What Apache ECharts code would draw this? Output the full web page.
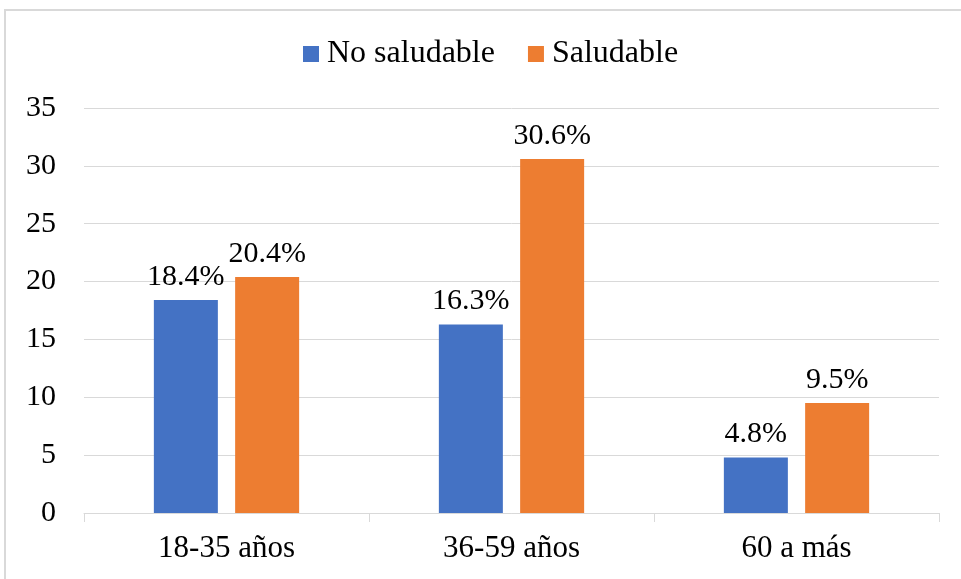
<!DOCTYPE html>
<html>
<head>
<meta charset="utf-8">
<script src="https://cdn.jsdelivr.net/npm/echarts@6/dist/echarts.min.js"></script>
<style>
  html, body { margin: 0; padding: 0; background: #fff; }
  #main { width: 961px; height: 579px; }
  .frame {
    position: absolute; left: 4px; top: 9px; width: 980px; height: 600px;
    border: 2px solid #d9d9d9; box-sizing: border-box; pointer-events: none;
  }
</style>
</head>
<body>
<div id="main"></div>
<div class="frame"></div>
<script>
// grupos de edad
var categories = ['18-35 años', '36-59 años', '60 a más']
var noSaludable = [18.4, 16.3, 4.8]
var saludable = [20.4, 30.6, 9.5]
var seriesNames = ['No saludable', 'Saludable']

var font = '"Liberation Serif", "Times New Roman", serif'
var myChart = echarts.init(document.getElementById('main'))

var labelOpt = {
  show: true,
  position: 'top',
  distance: 8,
  color: '#000',
  fontFamily: font,
  fontSize: 30,
  formatter: function (p) { return p.value.toFixed(1) + '%' }
}

myChart.setOption({
  animation: false,
  textStyle: { fontFamily: font },
  legend: {
    top: 33,
    left: 298,
    itemWidth: 16,
    itemHeight: 16,
    itemGap: 33,
    icon: 'rect',
    textStyle: { color: '#000', fontFamily: font, fontSize: 32, padding: [0, 0, 0, 3] },
    data: seriesNames
  },
  grid: {
    left: 84,
    right: 22,
    top: 108,
    bottom: 66,
    containLabel: false
  },
  xAxis: {
    type: 'category',
    data: categories,
    axisLine: { lineStyle: { color: '#d9d9d9', width: 1 } },
    axisTick: { show: true, length: 9, lineStyle: { color: '#d9d9d9' } },
    axisLabel: { color: '#000', fontFamily: font, fontSize: 31, margin: 20 }
  },
  yAxis: {
    type: 'value',
    min: 0,
    max: 35,
    interval: 5,
    axisLine: { show: false },
    axisTick: { show: false },
    splitLine: { lineStyle: { color: '#d9d9d9', width: 1 } },
    axisLabel: { color: '#000', fontFamily: font, fontSize: 30, margin: 28 }
  },
  series: [
    {
      name: seriesNames[0],
      type: 'bar',
      data: noSaludable,
      barWidth: 64,
      barGap: '27%',
      itemStyle: { color: '#4472C4' },
      label: labelOpt
    },
    {
      name: seriesNames[1],
      type: 'bar',
      data: saludable,
      barWidth: 64,
      itemStyle: { color: '#ED7D31' },
      label: labelOpt
    }
  ]
})
</script>
</body>
</html>
